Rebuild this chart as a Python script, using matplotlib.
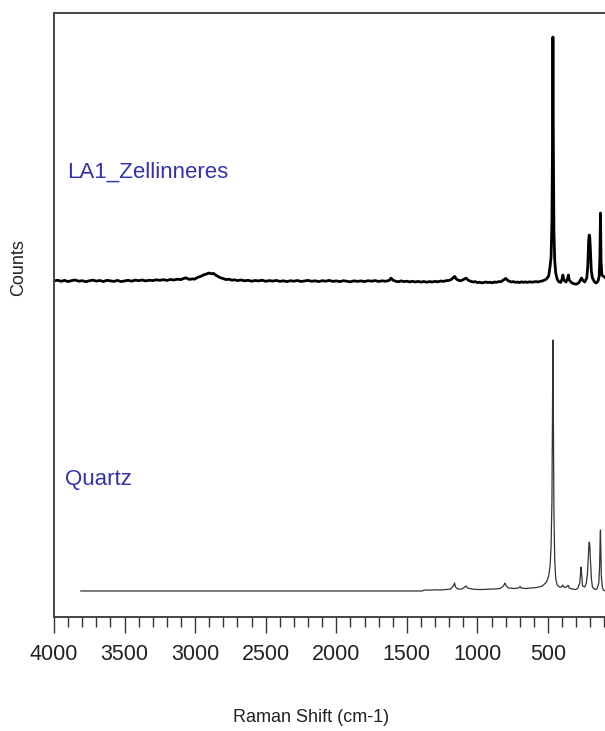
import matplotlib
matplotlib.use("Agg")
import matplotlib.pyplot as plt
from matplotlib.ticker import MultipleLocator

plt.rcParams['font.family'] = ['Liberation Sans', 'DejaVu Sans']

# ---- data (intensities in arbitrary counts) ----
la1_shift = [4000, 3975, 3950, 3925, 3900, 3875, 3850, 3825, 3800, 3775, 3750, 3725,
             3700, 3675, 3650, 3625, 3600, 3575, 3550, 3525, 3500, 3475, 3450, 3425,
             3400, 3375, 3350, 3325, 3300, 3275, 3250, 3225, 3200, 3175, 3150, 3125,
             3100, 3080, 3065, 3050, 3035, 3020, 3005, 2990, 2975, 2960, 2945, 2930,
             2915, 2900, 2885, 2870, 2855, 2840, 2825, 2810, 2795, 2780, 2760, 2740,
             2720, 2700, 2675, 2650, 2625, 2600, 2575, 2550, 2525, 2500, 2475, 2450,
             2425, 2400, 2375, 2350, 2325, 2300, 2275, 2250, 2225, 2200, 2175, 2150,
             2125, 2100, 2075, 2050, 2025, 2000, 1975, 1950, 1925, 1900, 1875, 1850,
             1825, 1800, 1775, 1750, 1725, 1700, 1675, 1650, 1625, 1612, 1600, 1580,
             1560, 1540, 1520, 1500, 1480, 1460, 1440, 1420, 1400, 1380, 1360, 1340,
             1320, 1300, 1280, 1260, 1240, 1220, 1200, 1185, 1170, 1160, 1150, 1135,
             1120, 1105, 1090, 1080, 1070, 1060, 1045, 1030, 1015, 1000, 985, 970,
             955, 940, 925, 910, 895, 880, 865, 850, 835, 820, 810, 800,
             790, 775, 760, 745, 730, 715, 700, 690, 675, 660, 645, 630,
             615, 600, 585, 570, 555, 540, 530, 520, 510, 495, 485, 478,
             472, 468, 465, 462, 458, 452, 445, 435, 425, 410, 400, 394,
             388, 372, 360, 355, 350, 330, 310, 295, 280, 270, 262, 255,
             240, 225, 218, 212, 208, 204, 199, 193, 185, 170, 158, 145,
             137, 132, 128, 124, 118, 110, 100]
la1_counts = [0, 0.8, -0.3, 0.6, -0.6, 0.4, 1.0, -0.2, 0.3, -0.7, 0.2, 0.9,
              -0.1, 0.5, -0.5, 0.7, 0.2, -0.4, 0.6, -0.6, 0.1, 0.7, -0.2, 0.9,
              0.3, 1.0, 0.1, 0.8, 0.4, 1.2, 0.7, 1.3, 0.6, 1.5, 1.0, 1.8,
              1.4, 2.6, 3.2, 2.0, 1.6, 2.2, 1.8, 3.0, 4.0, 4.6, 5.8, 6.5,
              7.2, 8.0, 7.2, 7.6, 6.0, 4.8, 3.5, 2.8, 2.0, 1.4, 1.8, 0.8,
              1.2, 0.4, 1.0, 0.2, 0.7, -0.2, 0.5, 0.1, 0.8, -0.3, 0.4, -0.1,
              0.6, -0.4, 0.2, -0.6, 0.3, -0.2, 0.5, -0.5, 0.1, 0.6, -0.3, 0.2,
              -0.6, 0.3, -0.2, 0.6, -0.4, 0.1, -0.6, 0.3, -0.3, -0.8, 0.2, -0.4,
              0.1, -0.6, 0.3, -0.2, 0.4, -0.5, 0.2, -0.3, 0.6, 2.8, 1.0, -0.2,
              -0.8, 0.1, -0.6, -0.2, -0.9, -0.3, -1.0, -0.4, -1.1, -0.5, -1.2, -0.6,
              -1.0, -0.4, -0.8, 0.0, -0.4, 0.4, 0.6, 1.5, 3.5, 4.5, 2.0, 0.8,
              0.2, 1.0, 2.2, 2.8, 1.4, 0.4, -0.4, -1.0, -0.6, -1.6, -1.2, -1.9,
              -1.4, -1.0, -1.6, -1.2, -1.8, -1.0, -1.3, -0.6, -0.8, 0.5, 1.6, 2.6,
              1.2, -0.2, -1.0, -0.6, -1.4, -1.0, -1.6, -0.8, -1.3, -0.9, -1.4, -0.8,
              -1.2, -0.9, -0.6, -1.0, -0.3, 0.0, 0.6, 1.2, 2.2, 5, 15, 24,
              60, 140, 244, 140, 50, 20, 8, 2, -0.5, -1.5, 2, 6,
              1, -1, 3, 6, 1, -2, -3, -3, -1.5, 1, 3, 1,
              -1, 3, 15, 40, 46, 44, 30, 10, 3, -1, -2, 0,
              5, 25, 68, 20, 6, 5, 4]

quartz_shift = [3810, 1390, 1385, 1370, 1340, 1300, 1260, 1220, 1190, 1170, 1162, 1155,
                1140, 1110, 1090, 1080, 1070, 1040, 1000, 960, 920, 880, 840, 815,
                805, 795, 780, 740, 710, 697, 690, 660, 620, 580, 540, 510, 495, 485,
                478, 472, 468, 465, 462, 458, 452, 445, 435, 420, 405, 395, 388, 375,
                362, 356, 350, 330, 305, 290, 275, 268, 265, 262, 255, 240, 228, 220,
                214, 210, 207, 204, 199, 192, 185, 172, 160, 150, 140, 134, 130, 128,
                126, 122, 115, 108, 100]
quartz_counts = [0, 0, 0.5, 1, 0.8, 1.2, 1, 1.5, 2, 5, 8, 4,
                 2, 2, 4, 5, 3, 2, 1.5, 1.5, 1.8, 2, 2.5, 5,
                 8, 5, 3, 2.5, 3, 4.5, 3, 2.5, 3, 3.5, 5, 9, 15, 25,
                 45, 90, 180, 251, 180, 80, 30, 12, 6, 4, 4, 6, 4, 3.5,
                 5, 5.5, 3, 2, 1.5, 2.5, 8, 20, 24, 18, 5, 4, 8, 18,
                 35, 46, 49, 46, 30, 12, 4, 2, 1.5, 3, 8, 25, 55, 61,
                 45, 15, 4, 1, 0.5]

series_names = ["LA1_Zellinneres", "Quartz"]
stack_offsets = [336, 26]

x_ticks = [4000, 3500, 3000, 2500, 2000, 1500, 1000, 500]

# ---- figure ----
W, H = 605, 731
fig = plt.figure(figsize=(W / 100, H / 100), dpi=100)
ax = fig.add_axes([54 / W, 1 - 617 / H, (605 - 54) / W, (617 - 13) / H])

ax.plot(la1_shift, [c + stack_offsets[0] for c in la1_counts],
        color='black', lw=2.0, solid_joinstyle='round')
ax.plot(quartz_shift, [c + stack_offsets[1] for c in quartz_counts],
        color='#333333', lw=0.9)

ax.set_xlim(4000, 96)
ax.set_ylim(0, 604)

ax.set_xticks(x_ticks)
ax.xaxis.set_minor_locator(MultipleLocator(100))
ax.tick_params(axis='x', which='major', direction='out', length=11.5, width=1.0,
               color='#333333', labelsize=15.5, labelcolor='#222222', pad=8)
ax.tick_params(axis='x', which='minor', direction='out', length=7.5, width=1.0,
               color='#333333')
ax.set_yticks([])

for side in ['left', 'top', 'bottom']:
    ax.spines[side].set_color('#444444')
    ax.spines[side].set_linewidth(1.4)
ax.spines['right'].set_visible(False)

ax.set_xlabel("Raman Shift (cm-1)", fontsize=13, color='#222222')
ax.xaxis.set_label_coords((311 - 54) / (605 - 54), -0.152)
ax.set_ylabel("Counts", fontsize=13, color='#222222')
ax.yaxis.set_label_coords(-0.048, 0.579)

ax.text((67 - 54) / (605 - 54), (617 - 172) / 604, series_names[0],
        transform=ax.transAxes, fontsize=16, color='#3333aa', va='center', ha='left')
ax.text((65 - 54) / (605 - 54), (617 - 480) / 604, series_names[1],
        transform=ax.transAxes, fontsize=16, color='#3333aa', va='center', ha='left')

fig.savefig("out.png", dpi=100)
